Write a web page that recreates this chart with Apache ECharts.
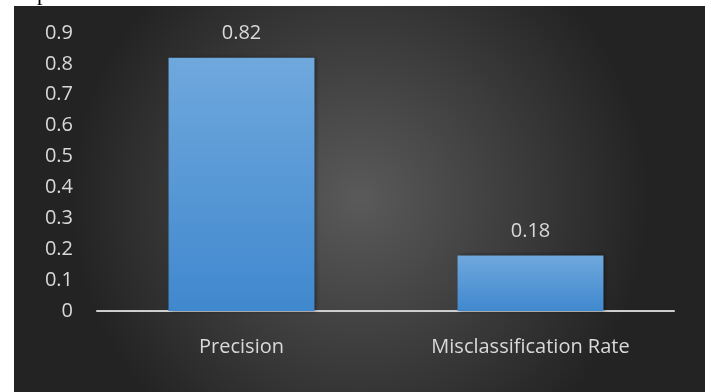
<!DOCTYPE html>
<html>
<head>
<meta charset="utf-8">
<script src="https://cdn.jsdelivr.net/npm/echarts@6/dist/echarts.min.js"></script>
<style>
html,body{margin:0;padding:0;background:#fff;}
#c{width:711px;height:392px;}
</style>
</head>
<body>
<div id="c"></div>
<script>
var categories = ['Precision', 'Misclassification Rate'];
var values = [0.82, 0.18];
var yTicks = [0, 0.1, 0.2, 0.3, 0.4, 0.5, 0.6, 0.7, 0.8, 0.9];

var chart = echarts.init(document.getElementById('c'), null, {renderer: 'canvas'});
var txt = '#d9d9d9';
var font = '"Open Sans"';
chart.setOption({
  animation: false,
  backgroundColor: '#ffffff',
  graphic: [
    {
      type: 'text', z: -20,
      style: {x: 37, y: -17, text: 'p', fill: '#000', font: '22px "Liberation Serif"', textAlign: 'left', textVerticalAlign: 'top'}
    },
    {
      type: 'rect', x: 14, y: 6, z: -10,
      shape: {width: 691, height: 386},
      style: {
        fill: new echarts.graphic.RadialGradient(0.5, 0.5, 0.75, [
          {offset: 0, color: '#5a5a5a'},
          {offset: 1, color: '#232323'}
        ])
      }
    }
  ],
  grid: {left: 97, right: 36, top: 33, bottom: 81, containLabel: false},
  xAxis: {
    type: 'category',
    data: categories,
    axisTick: {show: false},
    axisLine: {show: true, lineStyle: {color: '#d0d0d0', width: 2, type: [1, 1]}},
    axisLabel: {color: txt, fontFamily: font, fontSize: 20, margin: 26}
  },
  yAxis: {
    type: 'value',
    min: yTicks[0],
    max: yTicks[yTicks.length - 1],
    interval: 0.1,
    splitLine: {show: false},
    axisLine: {show: false},
    axisTick: {show: false},
    axisLabel: {
      color: txt, fontFamily: font, fontSize: 20, margin: 24,
      formatter: function (v) { return String(Math.round(v * 10) / 10); }
    }
  },
  series: [{
    type: 'bar',
    data: values,
    barWidth: '50.5%',
    itemStyle: {
      color: new echarts.graphic.LinearGradient(0, 0, 0, 1, [
        {offset: 0, color: '#6fa8dd'},
        {offset: 1, color: '#4088ce'}
      ]),
      shadowColor: 'rgba(0,0,0,0.45)',
      shadowBlur: 4,
      shadowOffsetX: 2,
      shadowOffsetY: 0
    },
    label: {
      show: true, position: 'top', distance: 14,
      color: txt, fontFamily: font, fontSize: 20,
      formatter: function (p) { return String(p.value); }
    }
  }]
});
</script>
</body>
</html>
